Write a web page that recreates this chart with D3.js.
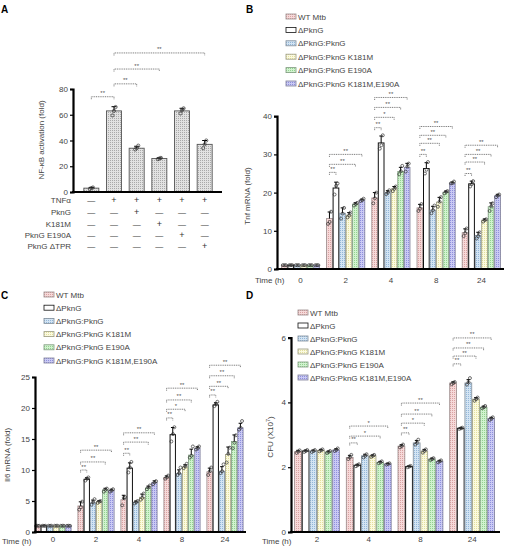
<!DOCTYPE html>
<html><head><meta charset="utf-8">
<script src="https://cdn.jsdelivr.net/npm/d3@7"></script>
<style>
body{margin:0;background:#fff;}
svg text{font-family:"Liberation Sans",Arial,sans-serif;}
</style></head>
<body>
<svg id="fig" width="508" height="547"></svg>
<script>
// ---------------- DATA ----------------
// Panel A
const aConditions = ["c1","c2","c3","c4","c5","c6"];
const aValues = [3, 63, 34, 26, 63, 37];
const aReps = [[2.4,3,3.5],[59.5,63,66],[33,34,36],[25.5,26,26.5],[61,63.5,65],[34,37,40]];
const aRowLabels = ["TNFα","PknG","K181M","PknG E190A","PknG ΔTPR"];
const aSigns = [
  ["-","+","+","+","+","+"],
  ["-","-","+","-","-","-"],
  ["-","-","-","+","-","-"],
  ["-","-","-","-","+","-"],
  ["-","-","-","-","-","+"]
];
const aTicks = [0,20,40,60,80];
// [barA, barB, label, level]
const aSig = [[0,1,"**",74],[1,2,"**",84],[1,3,"**",95.5],[1,5,"**",108]];

// shared series
const seriesNames = ["WT Mtb","ΔPknG","ΔPknG:PknG","ΔPknG:PknG K181M","ΔPknG:PknG E190A","ΔPknG:PknG K181M,E190A"];

// Panel B: Tnf mRNA
const tnfTimes = ["0","2","4","8","24"];
const tnfMeans = [
  [1.0, 13.2, 18.6, 16.0, 9.5],
  [1.0, 21.2, 33.0, 26.3, 22.3],
  [1.0, 14.6, 20.0, 15.4, 8.8],
  [1.0, 14.1, 21.0, 17.5, 12.8],
  [1.0, 17.0, 25.5, 20.1, 16.3],
  [1.0, 18.0, 26.6, 22.5, 19.2]
];
const tnfReps = [
  [[1,1,1],[11.8,12.3,15.0],[17.2,18.5,20.0],[15.2,15.8,17.0],[8.6,9.4,10.6]],
  [[1,1,1],[19.5,21.8,22.4],[31.5,32.4,35.0],[25.0,26.0,28.0],[21.6,22.2,23.0]],
  [[1,1,1],[13.2,14.5,16.0],[19.6,20.0,20.6],[14.6,15.4,16.6],[8.0,8.6,9.6]],
  [[1,1,1],[13.5,14.0,14.8],[20.4,21.0,21.6],[16.3,17.6,18.8],[12.4,12.8,13.0]],
  [[1,1,1],[16.6,17.0,17.3],[24.8,25.6,27.0],[19.8,20.2,20.4],[15.2,16.4,17.2]],
  [[1,1,1],[17.8,18.0,18.4],[25.5,26.8,27.6],[22.4,22.5,22.9],[18.8,19.2,19.5]]
];
const tnfTicks = [0,10,20,30,40];
// [group, series compared with WT, label, level]
const tnfSig = [
  [1,1,"**",25.3],[1,4,"**",27.4],[1,5,"**",30.0],
  [2,1,"**",37.0],[2,3,"*",39.7],[2,4,"**",42.3],[2,5,"**",44.9],
  [3,1,"**",30.0],[3,3,"**",32.9],[3,4,"**",35.0],[3,5,"**",37.3],
  [4,1,"**",25.0],[4,3,"**",28.0],[4,4,"**",30.0],[4,5,"**",32.4]
];

// Panel C: Il6 mRNA
const il6Times = ["0","2","4","8","24"];
const il6Means = [
  [1, 4.2, 5.2, 8.8, 9.7],
  [1, 8.5, 10.3, 15.7, 20.5],
  [1, 4.7, 4.8, 9.4, 9.8],
  [1, 4.9, 5.6, 10.5, 12.5],
  [1, 6.8, 7.1, 12.4, 14.6],
  [1, 6.7, 8.0, 13.5, 16.8]
];
const il6Reps = [
  [[1,1,1],[3.6,4.0,4.9],[4.3,5.5,5.6],[8.6,8.8,9.1],[9.2,9.8,10.4]],
  [[1,1,1],[8.3,8.6,8.8],[9.6,10.4,11.3],[14.6,15.8,16.9],[20.3,20.6,21.0]],
  [[1,1,1],[4.4,4.8,5.3],[4.6,4.8,5.0],[9.2,9.5,10.4],[9.5,9.8,10.9]],
  [[1,1,1],[4.7,4.9,5.0],[5.2,5.5,6.2],[10.3,10.6,11.0],[11.2,12.6,13.6]],
  [[1,1,1],[6.5,6.8,7.0],[6.9,7.2,7.5],[12.0,12.3,13.8],[13.5,14.4,15.6]],
  [[1,1,1],[6.5,6.7,6.9],[7.7,8.0,8.2],[13.3,13.5,13.8],[16.5,16.8,17.9]]
];
const il6Ticks = [0,5,10,15,20,25];
const il6Sig = [
  [1,1,"**",10.0],[1,4,"**",11.3],[1,5,"**",13.2],
  [2,1,"**",12.7],[2,4,"**",14.5],[2,5,"**",16.0],
  [3,1,"**",18.4],[3,3,"*",19.8],[3,4,"**",21.3],[3,5,"**",23.2],
  [4,1,"**",22.1],[4,3,"**",23.5],[4,4,"**",25.2],[4,5,"**",26.9]
];

// Panel D: CFU
const cfuTimes = ["2","4","8","24"];
const cfuMeans = [
  [2.48, 2.30, 2.65, 4.60],
  [2.50, 2.06, 2.02, 3.20],
  [2.50, 2.35, 2.75, 4.60],
  [2.52, 2.35, 2.50, 4.10],
  [2.47, 2.15, 2.25, 3.85],
  [2.53, 2.10, 2.18, 3.50]
];
const cfuReps = [
  [[2.44,2.48,2.52],[2.25,2.30,2.38],[2.61,2.65,2.70],[4.56,4.60,4.63]],
  [[2.47,2.50,2.53],[2.03,2.06,2.09],[2.00,2.02,2.04],[3.18,3.20,3.22]],
  [[2.47,2.50,2.53],[2.30,2.35,2.40],[2.70,2.75,2.85],[4.55,4.62,4.75]],
  [[2.49,2.52,2.55],[2.32,2.35,2.38],[2.45,2.50,2.55],[4.05,4.10,4.15]],
  [[2.44,2.47,2.50],[2.12,2.15,2.18],[2.22,2.25,2.28],[3.82,3.85,3.89]],
  [[2.50,2.53,2.58],[2.08,2.10,2.12],[2.15,2.18,2.21],[3.46,3.50,3.54]]
];
const cfuTicks = [0,2,4,6];
const cfuSig = [
  [1,1,"**",2.75],[1,4,"*",2.96],[1,5,"*",3.27],
  [2,1,"**",3.06],[2,3,"*",3.36],[2,4,"**",3.64],[2,5,"**",3.98],
  [3,1,"**",5.19],[3,3,"**",5.43],[3,4,"**",5.68],[3,5,"**",5.99]
];

// ---------------- STYLE ----------------
const seriesFill = [
  ["#f6d9d9","#d8a2a2","#9a8a8a"],
  ["#ffffff","#ffffff","#111111"],
  ["#d3e4f3","#93b6d8","#7f8c99"],
  ["#fbfadf","#e3df9e","#9a9a80"],
  ["#d1f3cf","#93d18f","#7f997f"],
  ["#cacaf4","#8f8fdc","#7f7f99"]
];

const svg = d3.select("#fig");
const defs = svg.append("defs");
function makePattern(id, base, dot){
  const p = defs.append("pattern").attr("id",id).attr("width",2).attr("height",2)
    .attr("patternUnits","userSpaceOnUse");
  p.append("rect").attr("width",2).attr("height",2).attr("fill",base);
  p.append("rect").attr("width",1).attr("height",1).attr("fill",dot);
}
seriesFill.forEach((c,i)=>makePattern("pat"+i,c[0],c[1]));
makePattern("patA","#e2e2e2","#a9a9a9");

const FONT = 8;

function panelLetter(t,x,y){
  svg.append("text").attr("x",x).attr("y",y).attr("font-size",10).attr("font-weight","bold").text(t);
}

function yAxis(g, y, ticks, x, fmt){
  const ax = d3.axisLeft(y).tickValues(ticks).tickSize(3).tickPadding(2).tickFormat(fmt||d3.format("d"));
  const a = g.append("g").attr("transform",`translate(${x},0)`).call(ax);
  a.select(".domain").attr("stroke","#000").attr("stroke-width",2.2);
  a.selectAll(".tick line").attr("stroke","#000").attr("stroke-width",1.2);
  a.selectAll(".tick text").attr("font-size",FONT).attr("fill","#444")
    .attr("font-family","Liberation Sans, Arial, sans-serif");
  return a;
}

function yTitle(text, x, y){
  return svg.append("text").attr("transform",`translate(${x},${y}) rotate(-90)`)
    .attr("text-anchor","middle").attr("font-size",FONT).attr("fill","#444").text(text);
}

function bracket(x1,x2,yy,label){
  const g = svg.append("g");
  g.append("path").attr("d",`M${x1},${yy+2.5}V${yy}H${x2}V${yy+2.5}`)
    .attr("fill","none").attr("stroke","#555").attr("stroke-width",0.8).attr("stroke-dasharray","1,0.8");
  g.append("text").attr("x",(x1+x2)/2).attr("y",yy-1.5).attr("text-anchor","middle")
    .attr("font-size",6).attr("fill","#555").text(label);
}

function drawLegend(x, y0, dy){
  seriesNames.forEach((n,i)=>{
    const yy = y0 + i*dy;
    svg.append("rect").attr("x",x).attr("y",yy-3).attr("width",10).attr("height",5)
      .attr("fill",`url(#pat${i})`).attr("stroke",seriesFill[i][2]).attr("stroke-width",0.8);
    svg.append("text").attr("x",x+12).attr("y",yy+2.5).attr("font-size",FONT).attr("fill","#444").text(n);
  });
}

function groupedPanel(cfg){
  const {times, means, reps, sig, ticks, xRange, inner, yRange, yMax, yAxisX, xAxisEnd, timeY, timeLabelX, timeLabelY} = cfg;
  const x0 = d3.scaleBand().domain(times).range(xRange).padding(0);
  const x1 = d3.scaleBand().domain(d3.range(seriesNames.length)).range(inner).padding(0);
  const y = d3.scaleLinear().domain([0,yMax]).range(yRange);
  const g = svg.append("g");
  // bars
  means.forEach((row,si)=>{
    row.forEach((v,ti)=>{
      const bx = x0(times[ti]) + x1(si);
      const bw = x1.bandwidth();
      g.append("rect").attr("x",bx+0.4).attr("y",y(v)).attr("width",bw-0.8).attr("height",y(0)-y(v))
        .attr("fill",`url(#pat${si})`).attr("stroke",seriesFill[si][2]).attr("stroke-width",si===1?1:0.8);
      const sd = d3.deviation(reps[si][ti]) || 0;
      const cx = bx + bw/2;
      if (sd > 0){
        g.append("line").attr("x1",cx).attr("x2",cx).attr("y1",y(v)).attr("y2",y(v+sd))
          .attr("stroke","#000").attr("stroke-width",1);
        g.append("line").attr("x1",cx-1.8).attr("x2",cx+1.8).attr("y1",y(v+sd)).attr("y2",y(v+sd))
          .attr("stroke","#000").attr("stroke-width",1);
      }
      const offs = [-1.4,0.2,1.6];
      reps[si][ti].forEach((r,k)=>{
        g.append("circle").attr("cx",cx+offs[k]).attr("cy",y(r)).attr("r",1.5)
          .attr("fill","none").attr("stroke","#333").attr("stroke-width",0.7);
      });
    });
  });
  // axes
  yAxis(svg, y, ticks, yAxisX);
  svg.append("line").attr("x1",yAxisX-1).attr("x2",xAxisEnd).attr("y1",y(0)).attr("y2",y(0))
    .attr("stroke","#000").attr("stroke-width",2.2);
  // time labels
  times.forEach(t=>{
    svg.append("text").attr("x",x0(t)+x0.bandwidth()/2).attr("y",timeY).attr("text-anchor","middle")
      .attr("font-size",FONT).attr("fill","#444").text(t);
  });
  svg.append("text").attr("x",timeLabelX).attr("y",timeLabelY||timeY).attr("font-size",FONT).attr("fill","#444").text("Time (h)");
  // significance
  sig.forEach(([ti,si,lab,lv])=>{
    const xa = x0(times[ti]) + x1(0) + x1.bandwidth()/2;
    const xb = x0(times[ti]) + x1(si) + x1.bandwidth()/2;
    bracket(xa, xb, y(lv), lab);
  });
  return {x0,x1,y};
}

// ---------------- PANEL A ----------------
panelLetter("A",1,13);
{
  const x = d3.scalePoint().domain(aConditions).range([80,216]).padding(0.5);
  const y = d3.scaleLinear().domain([0,80]).range([192,89]);
  const bw = 15;
  aValues.forEach((v,i)=>{
    const cx = x(aConditions[i]);
    svg.append("rect").attr("x",cx-bw/2).attr("y",y(v)).attr("width",bw).attr("height",y(0)-y(v))
      .attr("fill","url(#patA)").attr("stroke","#555").attr("stroke-width",0.9);
    const sd = d3.deviation(aReps[i]);
    svg.append("line").attr("x1",cx).attr("x2",cx).attr("y1",y(v)).attr("y2",y(v+sd)).attr("stroke","#000");
    svg.append("line").attr("x1",cx-2.5).attr("x2",cx+2.5).attr("y1",y(v+sd)).attr("y2",y(v+sd)).attr("stroke","#000");
    const offs=[-1.5,0,1.6];
    aReps[i].forEach((r,k)=>svg.append("circle").attr("cx",cx+offs[k]).attr("cy",y(r)).attr("r",1.6)
      .attr("fill","none").attr("stroke","#333").attr("stroke-width",0.7));
  });
  yAxis(svg, y, aTicks, 73);
  svg.append("line").attr("x1",72).attr("x2",222).attr("y1",y(0)).attr("y2",y(0)).attr("stroke","#000").attr("stroke-width",2.2);
  yTitle("NF-κB activation (fold)", 44, 140);
  const rowY = [203,215,227,238,249];
  aRowLabels.forEach((lab,r)=>{
    svg.append("text").attr("x",71).attr("y",rowY[r]).attr("text-anchor","end")
      .attr("font-size",FONT).attr("fill","#444").text(lab);
    aSigns[r].forEach((s,i)=>{
      svg.append("text").attr("x",x(aConditions[i])).attr("y",rowY[r]).attr("text-anchor","middle")
        .attr("font-size",s==="+"?9:8).attr("fill","#333").text(s==="+"?"+":"—");
    });
  });
  aSig.forEach(([a,b,lab,lv])=>bracket(x(aConditions[a]),x(aConditions[b]),y(lv),lab));
}

// ---------------- PANEL B ----------------
panelLetter("B",246,13);
drawLegend(286,17,13.4);
groupedPanel({times:tnfTimes, means:tnfMeans, reps:tnfReps, sig:tnfSig, ticks:tnfTicks,
  xRange:[278,504], inner:[3,42], yRange:[269,116.2], yMax:40, yAxisX:277, xAxisEnd:504,
  timeY:283, timeLabelX:255});
yTitle("Tnf mRNA (fold)", 250, 196);

// ---------------- PANEL C ----------------
panelLetter("C",1,299);
drawLegend(44,295,13.2);
groupedPanel({times:il6Times, means:il6Means, reps:il6Reps, sig:il6Sig, ticks:il6Ticks,
  xRange:[31.5,246.5], inner:[3,40], yRange:[532,377], yMax:25, yAxisX:35, xAxisEnd:246,
  timeY:542, timeLabelX:2, timeLabelY:544});
yTitle("Il6 mRNA (fold)", 10, 455);

// ---------------- PANEL D ----------------
panelLetter("D",246,299);
drawLegend(298,313,13);
groupedPanel({times:cfuTimes, means:cfuMeans, reps:cfuReps, sig:cfuSig, ticks:cfuTicks,
  xRange:[291.2,498], inner:[3,48.7], yRange:[532,337.6], yMax:6, yAxisX:291, xAxisEnd:500,
  timeY:542, timeLabelX:262, timeLabelY:544});
{
  const t = svg.append("text").attr("transform","translate(273,437) rotate(-90)")
    .attr("text-anchor","middle").attr("font-size",FONT).attr("fill","#444");
  t.append("tspan").text("CFU (X10");
  t.append("tspan").attr("font-size",5.5).attr("dy",-3).text("7");
  t.append("tspan").attr("dy",3).text(")");
}
</script>
</body></html>
